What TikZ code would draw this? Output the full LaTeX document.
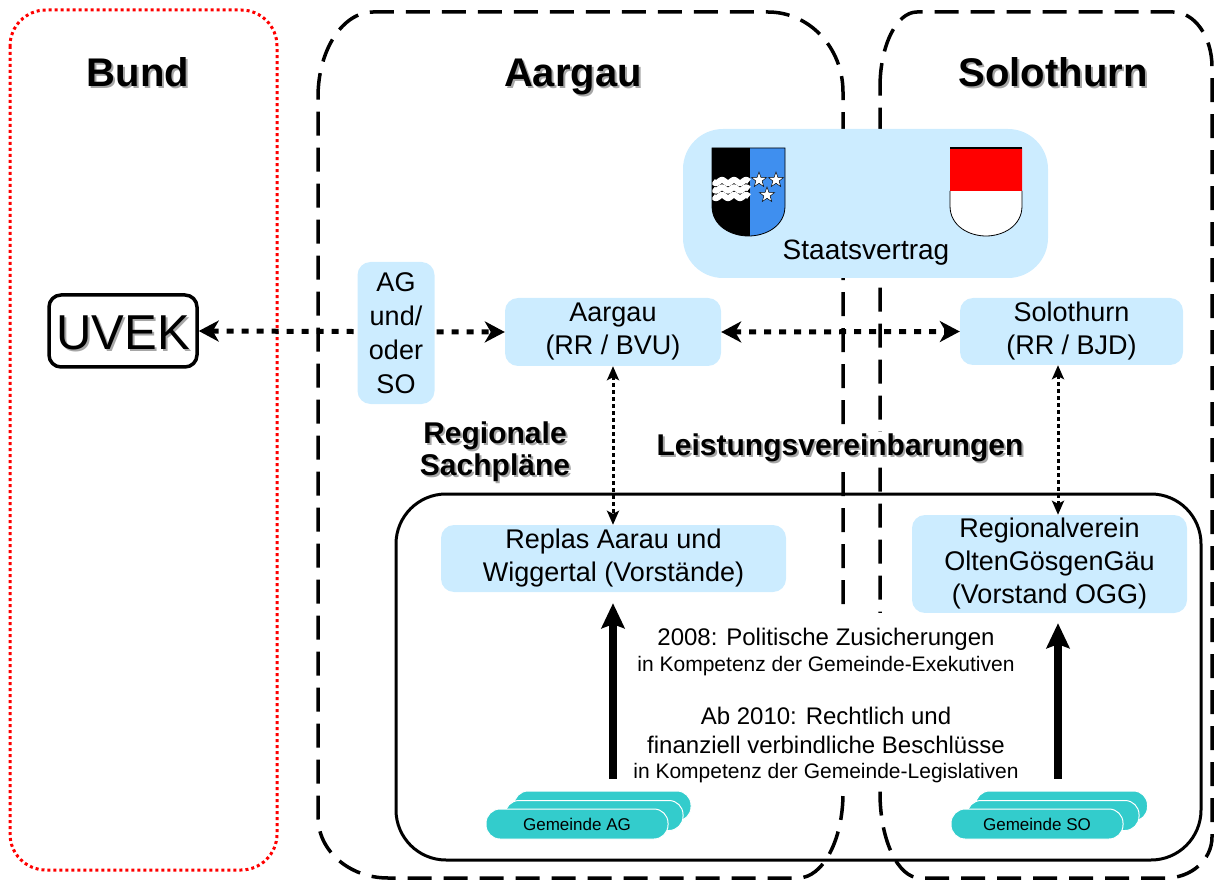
\documentclass[tikz,border=0pt]{standalone}
\usepackage{fontspec}
\setmainfont{Liberation Sans}
\usetikzlibrary{arrows.meta}
\definecolor{lblue}{HTML}{CCECFF}
\definecolor{gemteal}{HTML}{33CCCC}
\definecolor{agblue}{HTML}{3F8FEF}
\definecolor{sored}{HTML}{FF0000}
\pgfdeclarelayer{bg}
\pgfsetlayers{bg,main}
\begin{document}
\begin{tikzpicture}[x=1pt,y=-1pt,
  lbox/.style={fill=lblue, rounded corners=13pt, inner sep=0pt, align=center, font=\fontsize{27}{33}\selectfont},
  titletext/.style={font=\bfseries\fontsize{40}{44}\selectfont, anchor=base, inner sep=0pt},
  subtitle/.style={font=\bfseries\fontsize{30}{32}\selectfont, anchor=base, inner sep=0pt, align=center},
  shadowtext/.style={text=black!35},
  bigtxt/.style={font=\fontsize{24}{28}\selectfont, anchor=base, inner sep=0pt},
  smalltxt/.style={font=\fontsize{21}{24}\selectfont, anchor=base, inner sep=0pt},
  regdash/.style={line width=3.5pt, dash pattern=on 24pt off 12pt},
  reddot/.style={draw=sored, line width=3pt, dash pattern=on 3pt off 3pt},
  bigdot/.style={line width=5pt, dash pattern=on 7pt off 8pt,
     {Stealth[length=20pt,width=21pt,inset=6pt]}-{Stealth[length=20pt,width=21pt,inset=6pt]}},
  smalldot/.style={line width=3pt, dash pattern=on 4pt off 3pt,
     {Stealth[length=14pt,width=12pt,inset=3pt]}-{Stealth[length=14pt,width=12pt,inset=3pt]}},
  bigarrow/.style={line width=8pt, -{Stealth[length=25pt,width=23pt,inset=4pt]}},
  gem/.style={fill=gemteal, draw=white, line width=1pt, rounded corners=14pt, minimum height=30pt, inner sep=0pt, font=\fontsize{17}{20}\selectfont},
  wstar/.pic={\draw[fill=white,line width=0.5pt] (-90:8) -- (-54:3.3) -- (-18:8) -- (18:3.3) -- (54:8) -- (90:3.3) -- (126:8) -- (162:3.3) -- (198:8) -- (234:3.3) -- cycle;}
]
\useasboundingbox (0,0) rectangle (1218,882);

% ---------- region frames ----------
\begin{pgfonlayer}{bg}
\draw[reddot, rounded corners=36pt] (10,10) rectangle (277,870);
\draw[regdash] (318,97) arc[start angle=180,end angle=270,x radius=55,y radius=85]
  -- (768,12) arc[start angle=270,end angle=360,x radius=75,y radius=80]
  -- (843,793) arc[start angle=0,end angle=90,x radius=45,y radius=85]
  -- (388,878) arc[start angle=90,end angle=180,x radius=70,y radius=61] -- cycle;
\draw[regdash] (880,87) arc[start angle=180,end angle=270,x radius=37,y radius=75]
  -- (1173,12) arc[start angle=270,end angle=360,x radius=39,y radius=55]
  -- (1212,837) arc[start angle=0,end angle=90,x radius=46,y radius=41]
  -- (920,878) arc[start angle=90,end angle=180,x radius=40,y radius=85] -- cycle;
\end{pgfonlayer}

% big solid frame
\draw[line width=3pt, rounded corners=50pt] (396,494) rectangle (1201,860);

% ---------- titles ----------
\node[titletext,shadowtext] (bundS) at (140,89) {Bund};
\node[titletext] (bund) at (138,87) {Bund};
\node[titletext,shadowtext] (aargauTS) at (575,89) {Aargau};
\node[titletext] (aargauT) at (573,87) {Aargau};
\node[titletext,shadowtext] (soloTS) at (1055,89) {Solothurn};
\node[titletext] (soloT) at (1053,87) {Solothurn};

% ---------- Staatsvertrag ----------
\node[fill=lblue, rounded corners=40pt, minimum width=365pt, minimum height=149pt, inner sep=0pt] (staats) at (865.5,203.5) {};
\node[font=\fontsize{28}{32}\selectfont, anchor=base, inner sep=0pt] (staatsT) at (866,260) {Staatsvertrag};

% Aargau coat of arms
\begin{scope}
\clip (712,148) -- (785,148) -- (785,206) .. controls (785,226) and (766,236) .. (748.5,236) .. controls (731,236) and (712,226) .. (712,206) -- cycle;
\fill[black] (712,146) rectangle (749.5,240);
\fill[agblue] (749.5,146) rectangle (786,240);
\foreach \yy in {181.5,189,196.5}{
  \draw[white, line width=6pt] plot[domain=713:749, samples=40] (\x,{\yy+1.6*sin(30*(\x-713))});
}
\end{scope}
\draw[line width=0.8pt] (712,148) -- (785,148) -- (785,206) .. controls (785,226) and (766,236) .. (748.5,236) .. controls (731,236) and (712,226) .. (712,206) -- cycle;
\pic at (759,180) {wstar};
\pic at (776,180) {wstar};
\pic at (767,195) {wstar};

% Solothurn coat of arms
\begin{scope}
\clip (950,148) -- (1022,148) -- (1022,206) .. controls (1022,226) and (1003,236) .. (986,236) .. controls (969,236) and (950,226) .. (950,206) -- cycle;
\fill[white] (948,146) rectangle (1024,240);
\fill[sored] (948,146) rectangle (1024,191);
\end{scope}
\draw[line width=0.8pt] (950,191) -- (950,206) .. controls (950,226) and (969,236) .. (986,236) .. controls (1003,236) and (1022,226) .. (1022,206) -- (1022,191);
\draw[line width=1.5pt] (950,148) -- (1022,148);

% ---------- nodes ----------
\node[draw, fill=white, line width=3.5pt, rounded corners=12pt, minimum width=148pt, minimum height=72pt, inner sep=0pt] (uvek) at (123,331) {};
\node[font=\fontsize{49}{52}\selectfont, anchor=base, inner sep=0pt, text=black!35] (uvekS) at (125,352) {UVEK};
\node[font=\fontsize{49}{52}\selectfont, anchor=base, inner sep=0pt] (uvekT) at (123,350) {UVEK};

\node[lbox, font=\fontsize{27}{34}\selectfont, minimum width=77pt, minimum height=142pt] (agso) at (396,333) {AG\\und/\\oder\\SO};
\node[lbox, minimum width=216pt, minimum height=68pt] (aargau) at (613,332) {Aargau\\(RR / BVU)};
\node[lbox, minimum width=223pt, minimum height=67pt] (solo) at (1071.5,331.5) {Solothurn\\(RR / BJD)};
\node[lbox, minimum width=345pt, minimum height=67pt] (replas) at (613.5,558.5) {Replas Aarau und\\Wiggertal (Vorstände)};
\node[lbox, minimum width=275pt, minimum height=98pt] (regio) at (1049.5,564) {Regionalverein\\OltenGösgenGäu\\(Vorstand OGG)};

\node[subtitle,shadowtext] (regsachS) at (497,445) {Regionale};
\node[subtitle] (regsach) at (495,443) {Regionale};
\node[subtitle,shadowtext] (regsach2S) at (497,477) {Sachpläne};
\node[subtitle] (regsach2) at (495,475) {Sachpläne};
\fill[white] (650,432) rectangle (1032,466);
\node[subtitle,shadowtext] (leistS) at (842,457) {Leistungsvereinbarungen};
\node[subtitle] (leist) at (840,455) {Leistungsvereinbarungen};

% white backing of the text block
\fill[white] (632,613) rectangle (1020,790);
\node[bigtxt] (t1) at (826,645) {2008: Politische Zusicherungen};
\node[smalltxt] (t2) at (826,671) {in Kompetenz der Gemeinde-Exekutiven};
\node[bigtxt] (t3) at (826,724) {Ab 2010: Rechtlich und};
\node[bigtxt] (t4) at (826,753) {finanziell verbindliche Beschlüsse};
\node[smalltxt] (t5) at (826,778) {in Kompetenz der Gemeinde-Legislativen};

% Gemeinde stacks
\node[gem, minimum width=177pt] (gAG3) at (602.5,806) {};
\node[gem, minimum width=178pt] (gAG2) at (594,815.5) {};
\node[gem, minimum width=182pt] (gAG1) at (577,824) {Gemeinde AG};
\node[gem, minimum width=172pt] (gSO3) at (1061.5,806) {};
\node[gem, minimum width=172pt] (gSO2) at (1053,815.5) {};
\node[gem, minimum width=172pt] (gSO1) at (1037,824) {Gemeinde SO};

% ---------- connectors ----------
\coordinate (soX) at (1058,0);
\begin{pgfonlayer}{bg}
\draw[bigdot] (uvek.east) -- (aargau.west);
\end{pgfonlayer}
\draw[bigdot] (aargau.east) -- (solo.west);
\draw[smalldot] (aargau.south) -- (replas.north -| aargau.south);
\draw[smalldot] (solo.south -| soX) -- (regio.north -| soX);
\draw[bigarrow, shorten <=12pt, shorten >=11pt] (gAG3.north -| aargau.south) -- (replas.south -| aargau.south);
\draw[bigarrow, shorten <=12pt, shorten >=10pt] (gSO3.north -| soX) -- (regio.south -| soX);
\end{tikzpicture}
\end{document}
